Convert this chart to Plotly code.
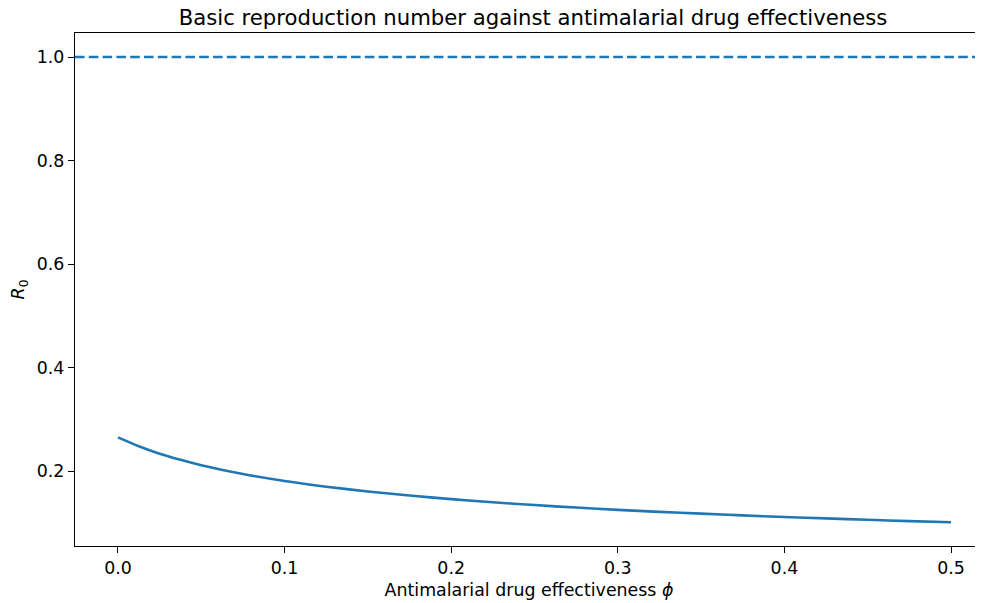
import plotly.graph_objects as go

phi = [0.0, 0.0125, 0.025, 0.0375, 0.05, 0.075, 0.1, 0.125, 0.15, 0.175, 0.2, 0.225, 0.25,
       0.275, 0.3, 0.325, 0.35, 0.375, 0.4, 0.425, 0.45, 0.475, 0.5]
r0 = [0.265, 0.2480, 0.2336, 0.2217, 0.2113, 0.1942, 0.1807, 0.1697, 0.1605, 0.1527, 0.1456,
      0.1396, 0.1342, 0.1294, 0.1250, 0.1211, 0.1176, 0.1143, 0.1112, 0.1084,
      0.1057, 0.1032, 0.1009]
threshold = 1.0

x_ticks = [0.0, 0.1, 0.2, 0.3, 0.4, 0.5]
y_ticks = [0.2, 0.4, 0.6, 0.8, 1.0]

blue = "#1f77b4"
font = "DejaVu Sans"

fig = go.Figure()
fig.add_trace(go.Scatter(x=phi, y=r0, mode="lines",
                         line=dict(color=blue, width=2.6, shape="spline", smoothing=0.8),
                         showlegend=False, hoverinfo="skip"))
fig.add_shape(type="line", xref="paper", x0=0, x1=1, yref="y", y0=threshold, y1=threshold,
              line=dict(color=blue, width=2.6, dash="9.6px,4.2px"))

fig.update_layout(
    width=975, height=595,
    margin=dict(l=67, r=0, t=25, b=57),
    paper_bgcolor="white", plot_bgcolor="white",
    font=dict(family=font, size=17.4, color="black"),
    title=dict(text="Basic reproduction number against antimalarial drug effectiveness",
               x=(533 - 75) / 908, xanchor="center", xref="paper",
               y=1 - (18 - 8) / 595, yanchor="middle", yref="container",
               font=dict(size=21.2, family=font, color="black")),
    xaxis=dict(range=[-0.0258, 0.5192], tickvals=x_ticks, ticktext=[f"{v:.1f}" for v in x_ticks],
               showgrid=False, zeroline=False, showline=True, linecolor="black", linewidth=1.4,
               mirror=True, ticks="outside", ticklen=6, tickwidth=1.4, tickcolor="black",
               tickfont=dict(size=17.4),
               title=dict(text="Antimalarial drug effectiveness <i>ϕ</i>", standoff=6,
                          font=dict(size=17.4))),
    yaxis=dict(range=[0.0551, 1.0465], tickvals=y_ticks, ticktext=[f"{v:.1f}" for v in y_ticks],
               showgrid=False, zeroline=False, showline=True, linecolor="black", linewidth=1.4,
               mirror=False, ticks="outside", ticklen=6, tickwidth=1.4, tickcolor="black",
               tickfont=dict(size=17.4),
               title=dict(text="<i>R</i><sub>0</sub>", standoff=8, font=dict(size=17.4))),
)

fig.write_html("out.html")
